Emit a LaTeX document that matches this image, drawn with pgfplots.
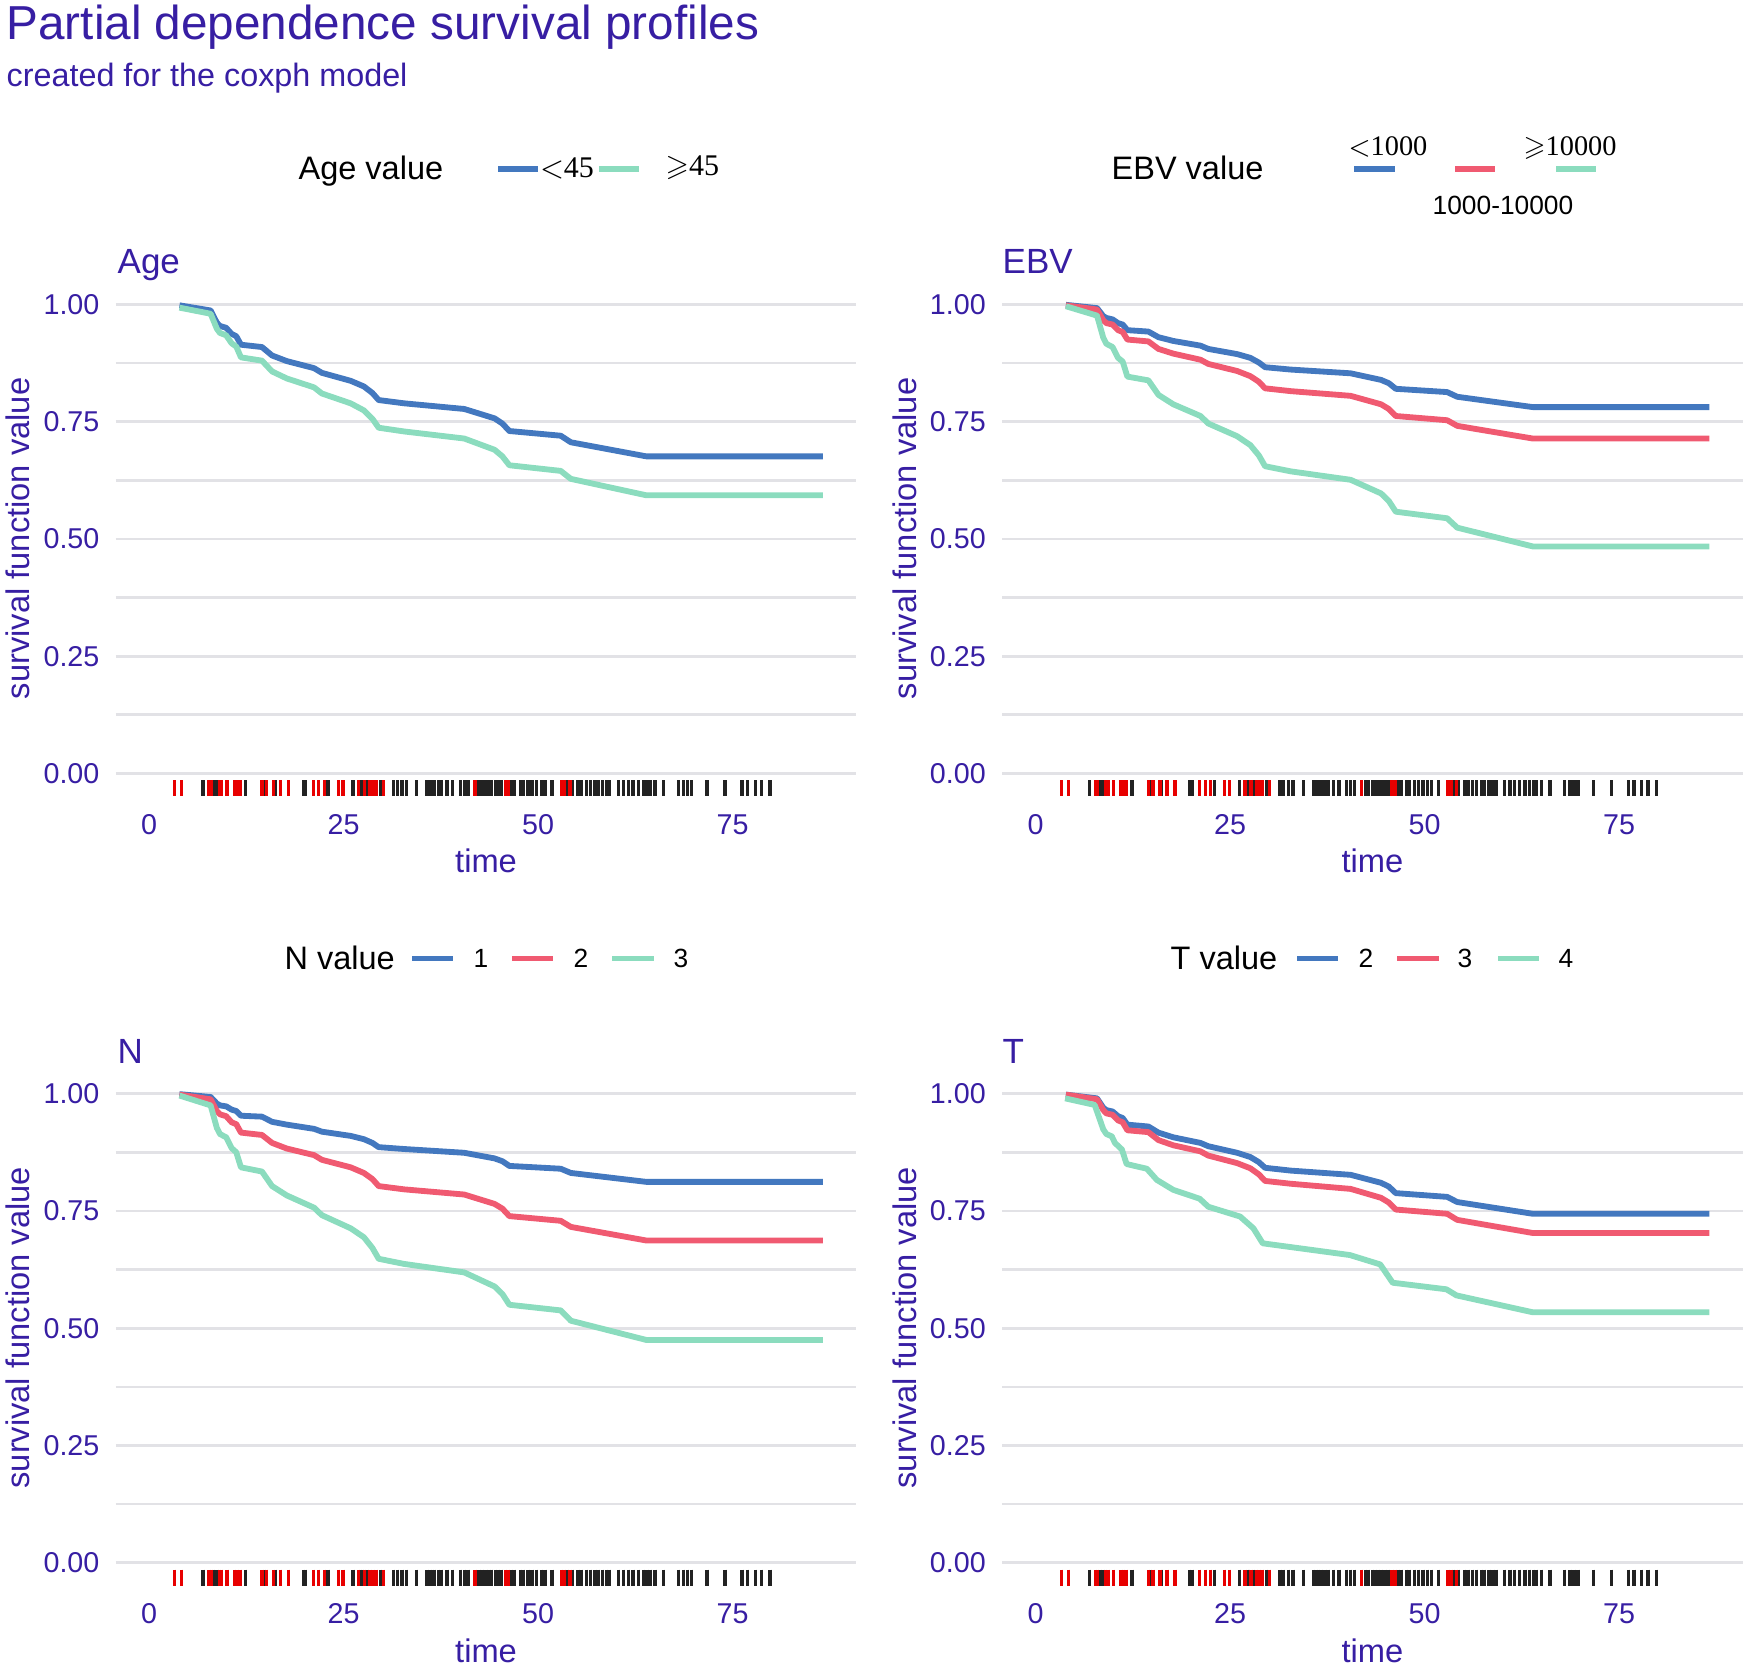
\documentclass[border=0pt]{standalone}
\usepackage{fontspec}
\setmainfont{Liberation Sans}
\newfontfamily\seriffont{Liberation Serif}
\usepackage{amssymb}
\usepackage{pgfplots}
\pgfplotsset{compat=1.18}

\definecolor{drwhy}{HTML}{371EA3}
\definecolor{cblue}{HTML}{4378BF}
\definecolor{cred}{HTML}{F05A71}
\definecolor{cgreen}{HTML}{8BDCBE}
\definecolor{gridc}{HTML}{E2E2E6}
\definecolor{rugred}{HTML}{E80000}
\definecolor{rugblack}{HTML}{222222}

% rug: censored (black) and event (red) times
\pgfplotstableread[row sep=\\]{
t y\\ 6.9 -0.0315\\ 8.3 -0.0315\\ 8.7 -0.0315\\ 12.4 -0.0315\\ 14.8 -0.0315\\ 16.2 -0.0315\\
19.8 -0.0315\\ 20.1 -0.0315\\ 23.0 -0.0315\\ 26.2 -0.0315\\ 27.2 -0.0315\\ 27.4 -0.0315\\
28.0 -0.0315\\ 29.7 -0.0315\\ 31.4 -0.0315\\ 31.9 -0.0315\\ 32.5 -0.0315\\ 33.1 -0.0315\\
34.4 -0.0315\\ 35.7 -0.0315\\ 36.1 -0.0315\\ 36.4 -0.0315\\ 36.7 -0.0315\\ 37.2 -0.0315\\
37.6 -0.0315\\ 38.3 -0.0315\\ 39.0 -0.0315\\ 40.0 -0.0315\\ 40.5 -0.0315\\ 41.0 -0.0315\\
42.4 -0.0315\\ 42.8 -0.0315\\ 43.3 -0.0315\\ 43.7 -0.0315\\ 44.0 -0.0315\\ 44.5 -0.0315\\
44.9 -0.0315\\ 45.3 -0.0315\\ 46.6 -0.0315\\ 47.0 -0.0315\\ 47.7 -0.0315\\ 48.1 -0.0315\\
48.7 -0.0315\\ 49.2 -0.0315\\ 49.8 -0.0315\\ 50.4 -0.0315\\ 50.9 -0.0315\\ 51.8 -0.0315\\
53.7 -0.0315\\ 54.4 -0.0315\\ 55.1 -0.0315\\ 55.6 -0.0315\\ 56.2 -0.0315\\ 56.7 -0.0315\\
57.3 -0.0315\\ 57.7 -0.0315\\ 58.3 -0.0315\\ 58.8 -0.0315\\ 59.2 -0.0315\\ 60.3 -0.0315\\
61.0 -0.0315\\ 61.6 -0.0315\\ 62.2 -0.0315\\ 62.9 -0.0315\\ 63.5 -0.0315\\ 64.0 -0.0315\\
64.4 -0.0315\\ 65.0 -0.0315\\ 66.1 -0.0315\\ 68.0 -0.0315\\ 68.7 -0.0315\\ 69.2 -0.0315\\
69.7 -0.0315\\ 71.7 -0.0315\\ 74.0 -0.0315\\ 76.2 -0.0315\\ 76.9 -0.0315\\ 77.9 -0.0315\\
78.7 -0.0315\\ 79.8 -0.0315\\
}\rugcens
\pgfplotstableread[row sep=\\]{
t y\\ 3.3 -0.0315\\ 4.2 -0.0315\\ 7.7 -0.0315\\ 8.0 -0.0315\\ 9.0 -0.0315\\ 9.3 -0.0315\\
10.0 -0.0315\\ 11.0 -0.0315\\ 11.3 -0.0315\\ 11.7 -0.0315\\ 14.5 -0.0315\\ 15.1 -0.0315\\
16.0 -0.0315\\ 16.9 -0.0315\\ 17.9 -0.0315\\ 21.1 -0.0315\\ 21.8 -0.0315\\ 22.5 -0.0315\\
24.3 -0.0315\\ 24.9 -0.0315\\ 26.9 -0.0315\\ 27.7 -0.0315\\ 28.4 -0.0315\\ 28.8 -0.0315\\
29.2 -0.0315\\ 30.1 -0.0315\\ 41.9 -0.0315\\ 45.8 -0.0315\\ 46.2 -0.0315\\ 53.0 -0.0315\\
53.4 -0.0315\\ 54.1 -0.0315\\
}\rugevent

% Age panel
\pgfplotstableread{
t     lo    hi
3.9   0.998 0.993
7.9   0.987 0.980
8.7   0.961 0.948
9.1   0.954 0.939
9.9   0.950 0.934
10.6  0.937 0.917
11.2  0.932 0.910
11.8  0.914 0.887
14.5  0.909 0.880
15.8  0.891 0.857
17.7  0.879 0.842
21.2  0.864 0.823
22.2  0.854 0.810
25.9  0.837 0.789
27.6  0.825 0.774
28.7  0.811 0.756
29.5  0.796 0.737
32.8  0.789 0.729
40.5  0.777 0.714
44.4  0.757 0.690
45.4  0.746 0.676
46.3  0.730 0.657
52.9  0.720 0.645
54.2  0.706 0.628
63.9  0.676 0.593
86.6  0.676 0.593
}\agetab

% EBV panel
\pgfplotstableread{
t     a     b     c
3.9   0.999 0.998 0.996
7.9   0.992 0.989 0.976
8.7   0.975 0.966 0.929
9.1   0.971 0.960 0.916
9.9   0.968 0.957 0.909
10.6  0.960 0.945 0.886
11.2  0.957 0.941 0.878
11.8  0.945 0.925 0.846
14.5  0.942 0.921 0.838
15.8  0.930 0.905 0.807
17.7  0.922 0.895 0.787
21.2  0.912 0.882 0.762
22.2  0.905 0.873 0.746
25.9  0.894 0.858 0.719
27.6  0.886 0.847 0.700
28.7  0.876 0.835 0.678
29.5  0.866 0.821 0.655
32.8  0.861 0.815 0.644
40.5  0.853 0.805 0.626
44.4  0.839 0.787 0.597
45.4  0.832 0.777 0.581
46.3  0.820 0.762 0.558
52.9  0.813 0.753 0.544
54.2  0.803 0.741 0.524
63.9  0.781 0.714 0.484
86.6  0.781 0.714 0.484
}\ebvtab

% N panel
\pgfplotstableread{
t     a     b     c
3.9   0.999 0.998 0.996
7.9   0.993 0.988 0.975
8.7   0.979 0.963 0.927
9.1   0.975 0.956 0.914
9.9   0.973 0.952 0.907
10.6  0.966 0.939 0.884
11.2  0.963 0.935 0.875
11.8  0.953 0.917 0.843
14.5  0.951 0.912 0.834
15.8  0.940 0.895 0.803
17.7  0.934 0.883 0.783
21.2  0.925 0.869 0.757
22.2  0.919 0.859 0.741
25.9  0.910 0.843 0.713
27.6  0.903 0.831 0.694
28.7  0.895 0.818 0.671
29.5  0.886 0.803 0.648
32.8  0.882 0.796 0.637
40.5  0.874 0.785 0.619
44.4  0.862 0.765 0.589
45.4  0.856 0.755 0.573
46.3  0.846 0.739 0.550
52.9  0.840 0.729 0.538
54.2  0.831 0.716 0.516
63.9  0.812 0.687 0.475
86.6  0.812 0.687 0.475
}\ntab

% T panel
\pgfplotstableread{
t     a     b
3.9   0.998 0.998
7.9   0.990 0.988
8.7   0.970 0.965
9.1   0.965 0.958
9.9   0.962 0.955
10.6  0.952 0.943
11.2  0.948 0.939
11.8  0.934 0.922
14.5  0.930 0.918
15.8  0.917 0.901
17.7  0.907 0.890
21.2  0.895 0.877
22.2  0.888 0.868
25.9  0.874 0.852
27.6  0.865 0.841
28.7  0.854 0.828
29.5  0.842 0.814
32.8  0.836 0.808
40.5  0.827 0.797
44.4  0.810 0.778
45.4  0.802 0.768
46.3  0.788 0.753
52.9  0.780 0.744
54.2  0.769 0.731
63.9  0.744 0.703
86.6  0.744 0.703
}\ttab
\pgfplotstableread{
t     c
3.8   0.990
7.6   0.976
8.7   0.924
9.1   0.914
9.8   0.909
10.2  0.895
11.1  0.881
11.7  0.850
14.3  0.840
15.6  0.816
17.7  0.795
21.1  0.776
22.2  0.759
26.3  0.738
28.0  0.713
29.2  0.681
40.4  0.656
44.3  0.636
45.9  0.597
52.8  0.583
54.1  0.570
63.9  0.534
86.6  0.534
}\ttabc

\pgfplotsset{
  panel/.style={
    scale only axis, width=222.2pt, height=154.8pt,
    anchor=south west,
    xmin=-4.3, xmax=90.9, ymin=-0.06, ymax=1.04,
    xtick={0,25,50,75}, xticklabels={0,25,50,75},
    ytick={0,0.25,0.5,0.75,1}, yticklabels={0.00,0.25,0.50,0.75,1.00},
    minor ytick={0.125,0.375,0.625,0.875},
    ymajorgrids, yminorgrids,
    major grid style={draw=gridc, line width=0.8pt},
    minor grid style={draw=gridc, line width=0.8pt},
    axis line style={draw=none},
    tick style={draw=none},
    major tick length=0pt, minor tick length=0pt,
    tick label style={font=\fontsize{8.6}{10}\selectfont, text=drwhy},
    yticklabel style={inner sep=0pt, anchor=east, xshift=-4.7pt},
    xticklabel style={inner sep=0pt, anchor=north, yshift=-3.6pt},
    xlabel={time}, ylabel={survival function value},
    label style={font=\fontsize{9.8}{11}\selectfont, text=drwhy, inner sep=0pt},
    xlabel style={at={(axis description cs:0.5,-0.138)}, anchor=base},
    ylabel style={at={(axis description cs:-0.1157,0.51)}, anchor=base},
    curve/.style={line width=1.75pt, line join=round},
  },
  rugc/.style={only marks, mark=|, mark size=2.4pt, color=rugblack,
    mark options={line width=1.0pt}},
  ruge/.style={only marks, mark=|, mark size=2.4pt, color=rugred,
    mark options={line width=1.0pt}},
}

\begin{document}
\begin{tikzpicture}
\useasboundingbox (0,0) rectangle (523.8pt,-500.1pt);

% titles
\node[anchor=base west, inner sep=0, text=drwhy, font=\fontsize{14.3}{16}\selectfont]
  at (1.8pt,-12pt) {Partial dependence survival profiles};
\node[anchor=base west, inner sep=0, text=drwhy, font=\fontsize{9.7}{11}\selectfont]
  at (1.8pt,-26.1pt) {created for the coxph model};

% ---------------- Age ----------------
\begin{axis}[panel, at={(34.71pt,-240.48pt)}]
\addplot[rugc] table[x=t,y=y] {\rugcens};
\addplot[ruge] table[x=t,y=y] {\rugevent};
\addplot[curve, cblue] table[x=t,y=lo] {\agetab};
\addplot[curve, cgreen] table[x=t,y=hi] {\agetab};
\end{axis}
\node[anchor=base west, inner sep=0, text=drwhy, font=\fontsize{10.5}{12}\selectfont]
  at (35.1pt,-82.2pt) {Age};
\node[anchor=base west, inner sep=0, font=\fontsize{9.75}{11}\selectfont]
  at (89.4pt,-54pt) {Age value};
\draw[cblue, line width=1.6pt] (149.4pt,-50.7pt) -- (161.4pt,-50.7pt);
\node[anchor=west, inner sep=0, font=\seriffont\fontsize{9}{10}\selectfont]
  at (161.8pt,-50.4pt) {$<$45};
\draw[cgreen, line width=1.6pt] (179.7pt,-50.7pt) -- (191.7pt,-50.7pt);
\node[anchor=west, inner sep=0, font=\seriffont\fontsize{9}{10}\selectfont]
  at (199.5pt,-50.4pt) {$\geqslant$45};

% ---------------- EBV ----------------
\begin{axis}[panel, at={(300.63pt,-240.48pt)}]
\addplot[rugc] table[x=t,y=y] {\rugcens};
\addplot[ruge] table[x=t,y=y] {\rugevent};
\addplot[curve, cblue] table[x=t,y=a] {\ebvtab};
\addplot[curve, cred] table[x=t,y=b] {\ebvtab};
\addplot[curve, cgreen] table[x=t,y=c] {\ebvtab};
\end{axis}
\node[anchor=base west, inner sep=0, text=drwhy, font=\fontsize{10.5}{12}\selectfont]
  at (300.6pt,-82.2pt) {EBV};
\node[anchor=base west, inner sep=0, font=\fontsize{9.75}{11}\selectfont]
  at (333.3pt,-54pt) {EBV value};
\draw[cblue, line width=1.6pt] (406.2pt,-50.7pt) -- (418.5pt,-50.7pt);
\draw[cred, line width=1.6pt] (436.5pt,-50.7pt) -- (448.5pt,-50.7pt);
\draw[cgreen, line width=1.6pt] (466.8pt,-50.7pt) -- (478.8pt,-50.7pt);
\node[anchor=base west, inner sep=0, font=\seriffont\fontsize{8.5}{10}\selectfont]
  at (404.4pt,-46.8pt) {$<$1000};
\node[anchor=base west, inner sep=0, font=\seriffont\fontsize{8.5}{10}\selectfont]
  at (456.9pt,-46.8pt) {$\geqslant$10000};
\node[anchor=base west, inner sep=0, font=\fontsize{7.9}{9}\selectfont]
  at (429.6pt,-64.5pt) {1000-10000};

% ---------------- N ----------------
\begin{axis}[panel, at={(34.71pt,-477.27pt)}]
\addplot[rugc] table[x=t,y=y] {\rugcens};
\addplot[ruge] table[x=t,y=y] {\rugevent};
\addplot[curve, cblue] table[x=t,y=a] {\ntab};
\addplot[curve, cred] table[x=t,y=b] {\ntab};
\addplot[curve, cgreen] table[x=t,y=c] {\ntab};
\end{axis}
\node[anchor=base west, inner sep=0, text=drwhy, font=\fontsize{10.5}{12}\selectfont]
  at (35.1pt,-318.9pt) {N};
\node[anchor=base west, inner sep=0, font=\fontsize{9.75}{11}\selectfont]
  at (85.2pt,-290.7pt) {N value};
\draw[cblue, line width=1.6pt] (123.6pt,-287.6pt) -- (135.9pt,-287.6pt);
\draw[cred, line width=1.6pt] (153.6pt,-287.6pt) -- (165.9pt,-287.6pt);
\draw[cgreen, line width=1.6pt] (183.6pt,-287.6pt) -- (196.2pt,-287.6pt);
\node[inner sep=0, font=\fontsize{7.9}{9}\selectfont] at (144.3pt,-287.6pt) {1};
\node[inner sep=0, font=\fontsize{7.9}{9}\selectfont] at (174.3pt,-287.6pt) {2};
\node[inner sep=0, font=\fontsize{7.9}{9}\selectfont] at (204.3pt,-287.6pt) {3};

% ---------------- T ----------------
\begin{axis}[panel, at={(300.63pt,-477.27pt)}]
\addplot[rugc] table[x=t,y=y] {\rugcens};
\addplot[ruge] table[x=t,y=y] {\rugevent};
\addplot[curve, cblue] table[x=t,y=a] {\ttab};
\addplot[curve, cred] table[x=t,y=b] {\ttab};
\addplot[curve, cgreen] table[x=t,y=c] {\ttabc};
\end{axis}
\node[anchor=base west, inner sep=0, text=drwhy, font=\fontsize{10.5}{12}\selectfont]
  at (300.6pt,-318.9pt) {T};
\node[anchor=base west, inner sep=0, font=\fontsize{9.75}{11}\selectfont]
  at (351pt,-290.7pt) {T value};
\draw[cblue, line width=1.6pt] (389.1pt,-287.6pt) -- (401.4pt,-287.6pt);
\draw[cred, line width=1.6pt] (419.1pt,-287.6pt) -- (431.7pt,-287.6pt);
\draw[cgreen, line width=1.6pt] (449.4pt,-287.6pt) -- (461.7pt,-287.6pt);
\node[inner sep=0, font=\fontsize{7.9}{9}\selectfont] at (409.8pt,-287.6pt) {2};
\node[inner sep=0, font=\fontsize{7.9}{9}\selectfont] at (439.5pt,-287.6pt) {3};
\node[inner sep=0, font=\fontsize{7.9}{9}\selectfont] at (469.8pt,-287.6pt) {4};
\end{tikzpicture}
\end{document}
